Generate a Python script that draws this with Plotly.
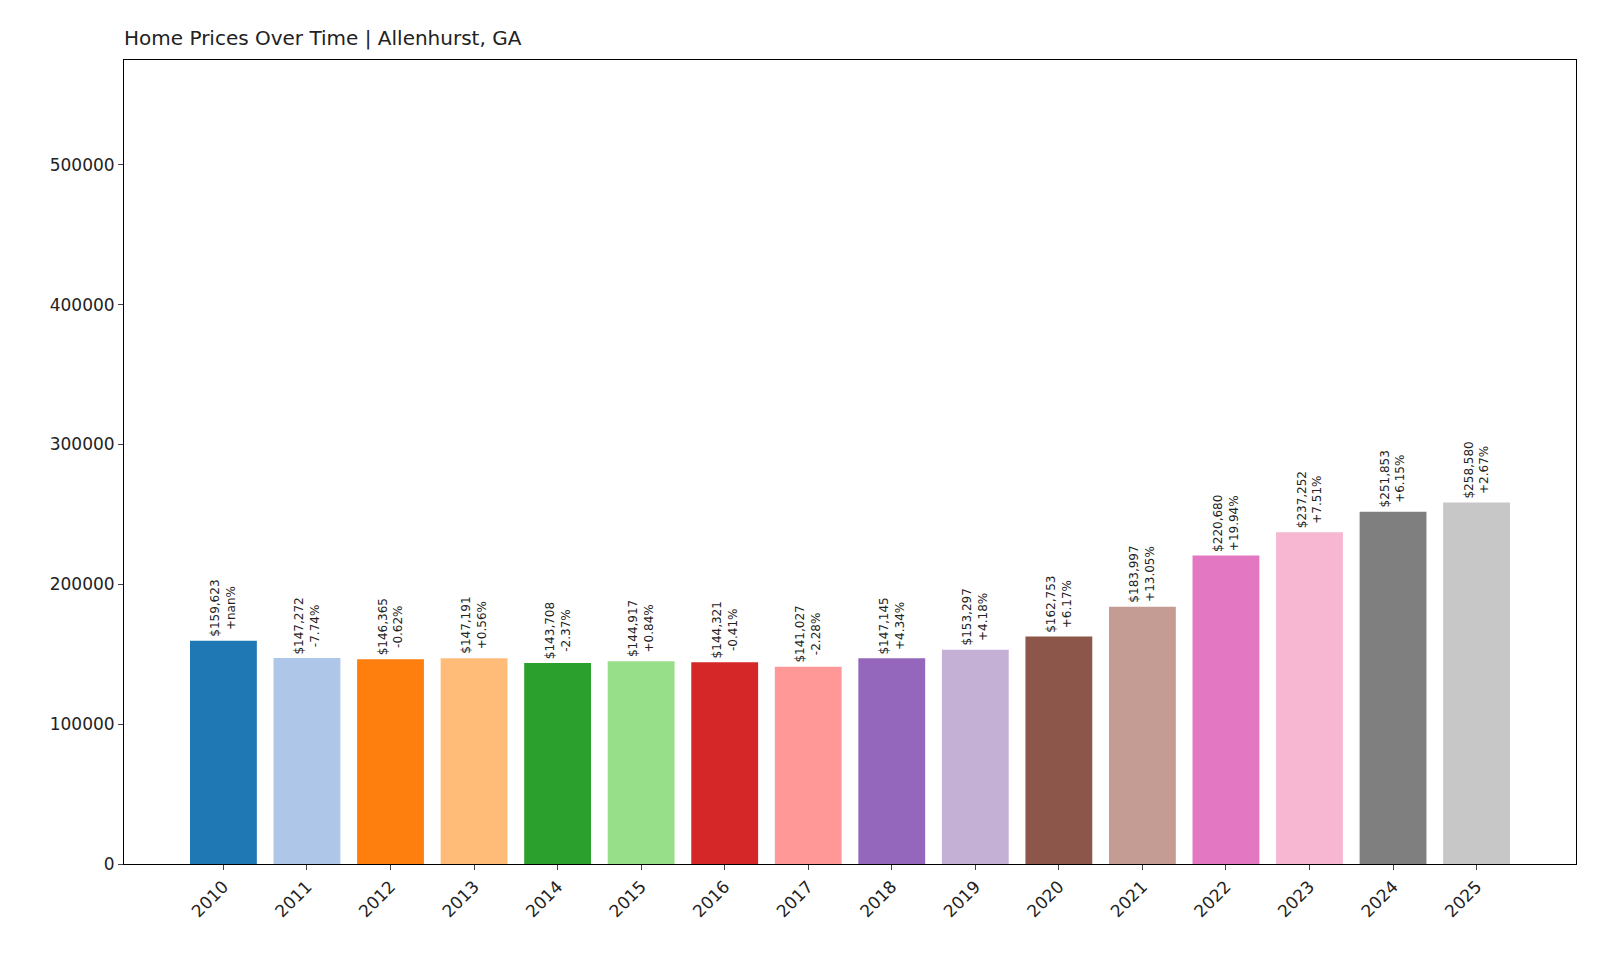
import plotly.graph_objects as go

years = [str(y) for y in range(2010, 2026)]
values = [159623, 147272, 146365, 147191, 143708, 144917, 144321, 141027, 147145, 153297, 162753, 183997, 220680, 237252, 251853, 258580]
changes = ["+nan%", "-7.74%", "-0.62%", "+0.56%", "-2.37%", "+0.84%", "-0.41%", "-2.28%", "+4.34%", "+4.18%", "+6.17%", "+13.05%", "+19.94%", "+7.51%", "+6.15%", "+2.67%"]
colors = ["#1f77b4", "#aec7e8", "#ff7f0e", "#ffbb78", "#2ca02c", "#98df8a", "#d62728", "#ff9896",
          "#9467bd", "#c5b0d5", "#8c564b", "#c49c94", "#e377c2", "#f7b6d2", "#7f7f7f", "#c7c7c7"]

idx = list(range(len(years)))
fig = go.Figure(go.Bar(x=idx, y=values, marker_color=colors, width=0.8, marker_line_width=0))

for i, v, c in zip(idx, values, changes):
    fig.add_annotation(x=i, y=v, text=f"${v:,}<br>{c}", textangle=-90, showarrow=False,
                       yanchor="bottom", yshift=2, font=dict(size=12, color="#222"))

fig.update_layout(
    width=1600, height=960, plot_bgcolor="white", paper_bgcolor="white",
    margin=dict(l=116, r=32, t=52, b=104), showlegend=False,
    font=dict(family="DejaVu Sans", color="#222"),
    title=dict(text="Home Prices Over Time | Allenhurst, GA", x=116/1600, xanchor="left",
               y=1-30/960, yanchor="middle", font=dict(size=20)),
)
fig.update_xaxes(range=[-1.19, 16.19], tickvals=idx, ticktext=years, tickangle=-45,
                 showline=True, linecolor="black", mirror=True, ticks="outside",
                 tickfont=dict(size=17), showgrid=False)
fig.update_yaxes(range=[0, 575000], tickvals=[0, 100000, 200000, 300000, 400000, 500000],
                 tickformat="d", showline=True, linecolor="black", mirror=True,
                 ticks="outside", tickfont=dict(size=17), showgrid=False, zeroline=False)

fig.write_html("out.html")
